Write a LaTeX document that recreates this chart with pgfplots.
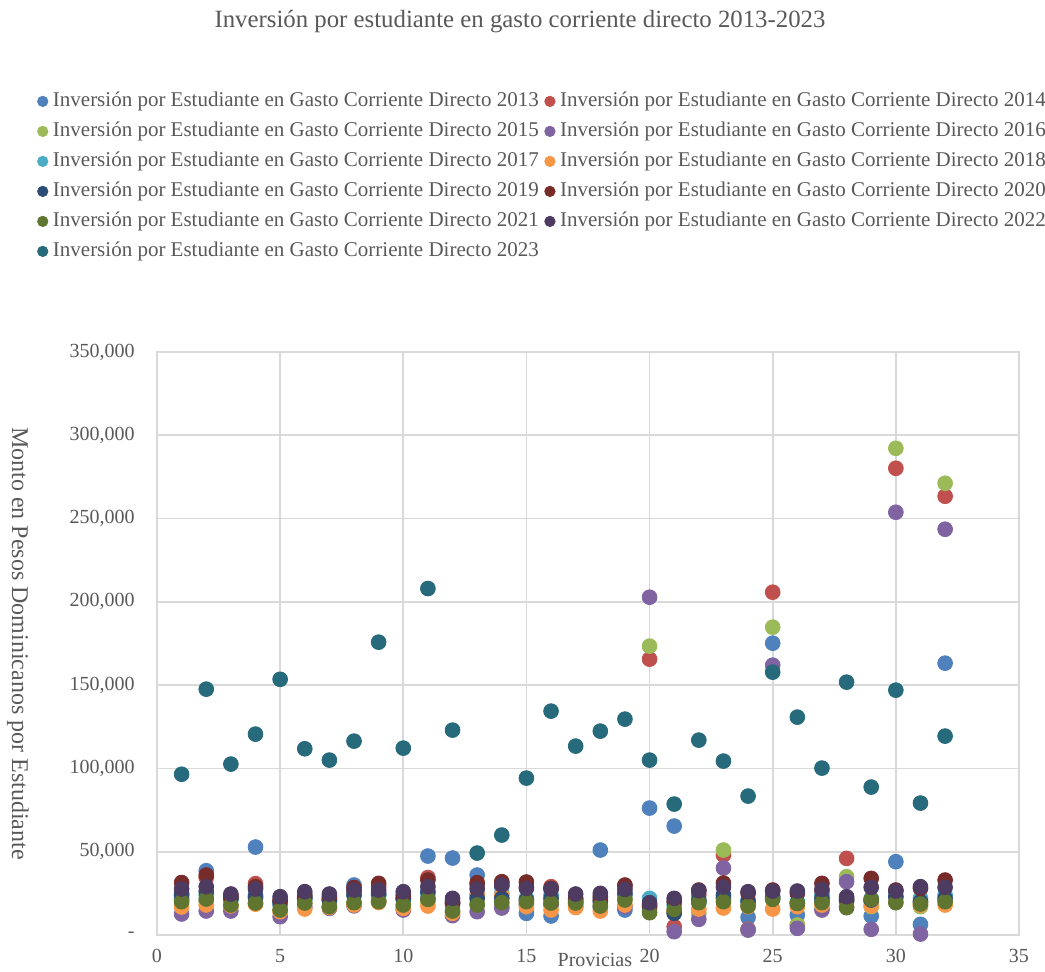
\documentclass[border=0pt]{standalone}
\usepackage{fontspec}
\setmainfont{Liberation Serif}
\usepackage{pgfplots}
\usepackage{pgfplotstable}
\pgfplotsset{compat=1.18}
\definecolor{c13}{HTML}{4F81BD}
\definecolor{c14}{HTML}{C0504D}
\definecolor{c15}{HTML}{9BBB59}
\definecolor{c16}{HTML}{8064A2}
\definecolor{c17}{HTML}{4BACC6}
\definecolor{c18}{HTML}{F79646}
\definecolor{c19}{HTML}{2C4D75}
\definecolor{c20}{HTML}{772C2A}
\definecolor{c21}{HTML}{5F7530}
\definecolor{c22}{HTML}{4D3B62}
\definecolor{c23}{HTML}{276A7C}
\definecolor{txt}{HTML}{595959}
\definecolor{gridc}{HTML}{D9D9D9}

\pgfplotstableread{
x y13 y14 y15 y16 y17 y18 y19 y20 y21 y22 y23
1 22000 25000 18500 12600 21000 16800 24000 31500 20000 27600 96500
2 38600 34500 20000 14400 24000 18000 26000 36000 21600 29000 147600
3 22000 23500 17000 14400 21000 17500 22000 23000 18000 24600 102600
4 52800 30800 19000 22000 24000 18500 23000 29000 19200 27600 120600
5 18000 20000 15000 11000 19000 14000 20000 21000 15000 23000 153500
6 22000 23000 19000 17000 22000 15600 22000 24000 19200 26000 111800
7 21000 22000 17000 16000 21000 16500 21000 23000 17000 24600 105000
8 30000 26000 19000 17500 24000 18000 24000 28500 19400 27000 116400
9 24000 29000 21000 20000 24000 19500 25000 31000 20000 27000 175800
10 22000 22000 17000 15000 21000 16000 22000 24000 18000 26000 112200
11 47400 34500 20000 22000 25000 17400 26000 33000 21400 29000 208000
12 46200 19000 14000 11600 18000 13000 19000 20000 14400 22000 123000
13 36000 30000 19000 14000 24000 24000 22000 31400 18000 27600 49200
14 29000 31000 17000 16200 25000 24000 22000 32000 19400 30000 60000
15 13000 29000 19000 18000 22000 17000 21000 31800 20000 28000 94200
16 11400 29000 20000 18000 24000 15000 22000 28000 19200 27600 134400
17 19000 21000 18000 17000 21000 16500 20000 22000 19200 24600 113400
18 51000 21000 18000 16500 22000 14400 20000 23000 17400 25000 122400
19 15000 29500 22000 17000 24000 18000 25000 30000 21000 27400 129600
20 76200 165600 173400 202800 22000 15000 17000 18000 13400 19400 105000
21 65400 5000 14000 2000 18000 14000 13000 20000 15400 22000 78600
22 20000 24000 13000 9400 20000 15600 21000 27000 19400 26600 117000
23 22000 48000 51000 40200 22000 16200 24000 31200 20000 28800 104400
24 10600 3500 3000 3000 21000 17000 20000 25000 17400 26000 83400
25 175200 205800 184800 162000 22000 15600 23000 27000 21400 26400 157800
26 12000 6000 6000 4000 20000 17000 19000 25000 19000 26400 130800
27 20000 26000 16000 15000 24000 18000 22000 31000 19400 27400 100200
28 20000 46000 35000 32000 21000 17000 21000 22000 16400 23000 151800
29 11400 20000 17000 3400 22000 17400 21000 34000 21400 28600 88800
30 44000 280200 292200 253800 23000 20000 23000 27000 19400 26400 147000
31 6400 20000 17000 600 22000 18000 20000 28000 18600 29000 79200
32 163200 263400 271200 243600 24000 18000 22000 33000 20000 28600 119400
}\data

\begin{document}
\begin{tikzpicture}[x=1pt,y=1pt]
\useasboundingbox (-78.5,-18) rectangle (444,467.5);
\fill[white] (-78.5,-18) rectangle (444,467.5);
\node[text=txt, font=\fontsize{12.4}{14}\selectfont] at (181.5,456.5) {Inversión por estudiante en gasto corriente directo 2013-2023};
\begin{axis}[
  width=431pt, height=291.5pt, scale only axis,
  xmin=0, xmax=35, ymin=0, ymax=350000,
  xtick={0,5,10,15,20,25,30,35},
  xticklabels={0,5,10,15,20,25,30,35},
  ytick={0,50000,100000,150000,200000,250000,300000,350000},
  yticklabels={-,{50,000},{100,000},{150,000},{200,000},{250,000},{300,000},{350,000}},
  scaled y ticks=false,
  grid=major,
  major grid style={draw=gridc, line width=0.9pt},
  axis line style={draw=gridc, line width=0.9pt},
  major tick length=0pt,
  tick label style={text=txt, font=\fontsize{10}{12}\selectfont},
  xticklabel style={anchor=base, yshift=-13.5pt},
  yticklabel style={anchor=east, xshift=-7.7pt},
  xlabel={Provicias},
  ylabel={Monto en Pesos Dominicanos por Estudiante},
  xlabel style={at={(axis description cs:0.508,-0.0545)}, anchor=base, text=txt, font=\fontsize{10}{12}\selectfont},
  ylabel style={at={(axis description cs:-0.1613,0.5)}, anchor=center, rotate=180, text=txt, font=\fontsize{12}{14}\selectfont},
  legend columns=2,
  legend style={at={(axis description cs:0.4475,1.458)}, anchor=north, draw=none, fill=none,
    font=\fontsize{10.5}{12}\selectfont, text=txt,
    nodes={inner sep=1pt, text height=7.5pt, text depth=2.5pt},
    row sep=3pt,
    /tikz/every odd column/.append style={column sep=1.5pt},
    /tikz/every even column/.append style={column sep=2pt}},
  legend image code/.code={\draw[#1, mark size=2.6pt] plot coordinates {(0pt,0pt)};},
  every axis plot/.append style={only marks, mark=*, mark size=3.7pt},
]
\addplot[c13, mark options={fill=c13, draw=c13}] table[x=x, y=y13] {\data};
\addlegendentry{Inversión por Estudiante en Gasto Corriente Directo 2013}
\addplot[c14, mark options={fill=c14, draw=c14}] table[x=x, y=y14] {\data};
\addlegendentry{Inversión por Estudiante en Gasto Corriente Directo 2014}
\addplot[c15, mark options={fill=c15, draw=c15}] table[x=x, y=y15] {\data};
\addlegendentry{Inversión por Estudiante en Gasto Corriente Directo 2015}
\addplot[c16, mark options={fill=c16, draw=c16}] table[x=x, y=y16] {\data};
\addlegendentry{Inversión por Estudiante en Gasto Corriente Directo 2016}
\addplot[c17, mark options={fill=c17, draw=c17}] table[x=x, y=y17] {\data};
\addlegendentry{Inversión por Estudiante en Gasto Corriente Directo 2017}
\addplot[c18, mark options={fill=c18, draw=c18}] table[x=x, y=y18] {\data};
\addlegendentry{Inversión por Estudiante en Gasto Corriente Directo 2018}
\addplot[c19, mark options={fill=c19, draw=c19}] table[x=x, y=y19] {\data};
\addlegendentry{Inversión por Estudiante en Gasto Corriente Directo 2019}
\addplot[c20, mark options={fill=c20, draw=c20}] table[x=x, y=y20] {\data};
\addlegendentry{Inversión por Estudiante en Gasto Corriente Directo 2020}
\addplot[c21, mark options={fill=c21, draw=c21}] table[x=x, y=y21] {\data};
\addlegendentry{Inversión por Estudiante en Gasto Corriente Directo 2021}
\addplot[c22, mark options={fill=c22, draw=c22}] table[x=x, y=y22] {\data};
\addlegendentry{Inversión por Estudiante en Gasto Corriente Directo 2022}
\addplot[c23, mark options={fill=c23, draw=c23}] table[x=x, y=y23] {\data};
\addlegendentry{Inversión por Estudiante en Gasto Corriente Directo 2023}
\end{axis}
\end{tikzpicture}
\end{document}
